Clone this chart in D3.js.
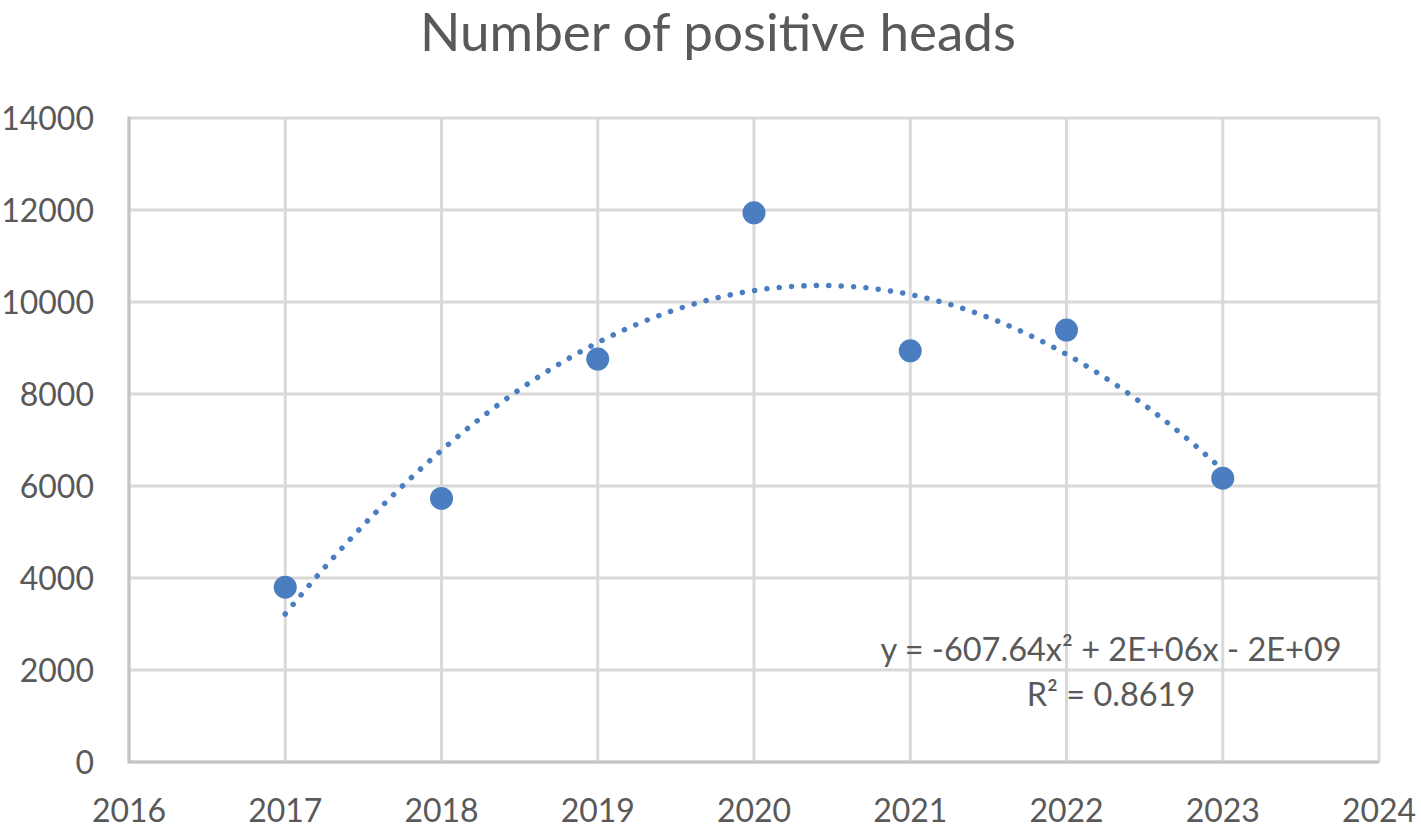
<!DOCTYPE html>
<html>
<head>
<meta charset="utf-8">
<script src="https://cdn.jsdelivr.net/npm/d3@7"></script>
<style>
  body { margin: 0; background: #fff; }
  text { font-family: Lato, "Open Sans", sans-serif; fill: #595959; }
</style>
</head>
<body>
<div id="chart"></div>
<script>
// data
const years = [2017, 2018, 2019, 2020, 2021, 2022, 2023];
const heads = [3800, 5730, 8760, 11940, 8940, 9390, 6170];
const xTicks = [2016, 2017, 2018, 2019, 2020, 2021, 2022, 2023, 2024];
const yTicks = [0, 2000, 4000, 6000, 8000, 10000, 12000, 14000];
const titleText = 'Number of positive heads';
const eqLines = ['y = -607.64x\u00B2 + 2E+06x - 2E+09', 'R\u00B2 = 0.8619'];

const width = 1421;
const height = 833;
const margin = {top: 118, right: 42, bottom: 71, left: 129};
const blue = '#4a7ec1';

const points = years.map((y, i) => ({year: y, value: heads[i]}));

// least squares quadratic, like the spreadsheet trendline (x centred for stability)
function quadFit(pts) {
  const n = pts.length;
  const mx = d3.mean(pts, d => d.year);
  let s2 = 0, s3 = 0, s4 = 0, sy = 0, sty = 0, st2y = 0, s1 = 0;
  pts.forEach(d => {
    const t = d.year - mx;
    s1 += t; s2 += t * t; s3 += t * t * t; s4 += t * t * t * t;
    sy += d.value; sty += t * d.value; st2y += t * t * d.value;
  });
  // solve 3x3 normal equations
  const A = [[n, s1, s2], [s1, s2, s3], [s2, s3, s4]];
  const B = [sy, sty, st2y];
  const det = m => m[0][0] * (m[1][1] * m[2][2] - m[1][2] * m[2][1])
    - m[0][1] * (m[1][0] * m[2][2] - m[1][2] * m[2][0])
    + m[0][2] * (m[1][0] * m[2][1] - m[1][1] * m[2][0]);
  const D = det(A);
  const coef = [0, 1, 2].map(k => det(A.map((row, r) => row.map((v, c) => c === k ? B[r] : v))) / D);
  return t => coef[0] + coef[1] * (t - mx) + coef[2] * (t - mx) * (t - mx);
}
const fit = quadFit(points);

const svg = d3.select('#chart').append('svg')
  .attr('width', width)
  .attr('height', height);

const x = d3.scaleLinear()
  .domain([2016, 2024])
  .range([margin.left, width - margin.right]);

const y = d3.scaleLinear()
  .domain([0, 14000])
  .range([height - margin.bottom, margin.top]);

// grid
svg.append('g')
  .selectAll('line.h')
  .data(yTicks)
  .enter().append('line')
  .attr('x1', x(2016)).attr('x2', x(2024))
  .attr('y1', d => y(d)).attr('y2', d => y(d))
  .style('stroke', '#d9d9d9').style('stroke-width', 3);

svg.append('g')
  .selectAll('line.v')
  .data(xTicks)
  .enter().append('line')
  .attr('x1', d => x(d)).attr('x2', d => x(d))
  .attr('y1', y(0)).attr('y2', y(14000))
  .style('stroke', '#d9d9d9').style('stroke-width', 3);

// axis lines
svg.append('line')
  .attr('x1', x(2016)).attr('x2', x(2024))
  .attr('y1', y(0)).attr('y2', y(0))
  .style('stroke', '#c4c4c4').style('stroke-width', 3);
svg.append('line')
  .attr('x1', x(2016)).attr('x2', x(2016))
  .attr('y1', y(0) + 1.5).attr('y2', y(14000) - 1.5)
  .style('stroke', '#c4c4c4').style('stroke-width', 3);

// tick labels
svg.append('g')
  .selectAll('text')
  .data(yTicks)
  .enter().append('text')
  .attr('x', 94)
  .attr('y', d => y(d))
  .attr('dy', '0.36em')
  .attr('text-anchor', 'end')
  .style('font-size', '32px')
  .text(d => d);

svg.append('g')
  .selectAll('text')
  .data(xTicks)
  .enter().append('text')
  .attr('x', d => x(d))
  .attr('y', 822)
  .attr('text-anchor', 'middle')
  .style('font-size', '32px')
  .text(d => d);

// title
svg.append('text')
  .attr('x', 718)
  .attr('y', 51)
  .attr('text-anchor', 'middle')
  .style('font-size', '53px')
  .text(titleText);

// trendline
const trend = d3.range(2017, 2023.001, 0.02).map(t => [x(t), y(fit(t))]);
svg.append('path')
  .attr('d', d3.line()(trend))
  .style('fill', 'none')
  .style('stroke', blue)
  .style('stroke-width', 5.5)
  .style('stroke-linecap', 'round')
  .style('stroke-dasharray', '0.1 12.3');

// points
svg.selectAll('circle')
  .data(points)
  .enter().append('circle')
  .attr('cx', d => x(d.year))
  .attr('cy', d => y(d.value))
  .attr('r', 11.5)
  .style('fill', blue);

// trendline label
svg.append('text')
  .attr('text-anchor', 'middle')
  .style('font-size', '32.5px')
  .selectAll('tspan')
  .data(eqLines)
  .enter().append('tspan')
  .attr('x', 1111)
  .attr('y', (d, i) => 661 + i * 45)
  .text(d => d);
</script>
</body>
</html>
